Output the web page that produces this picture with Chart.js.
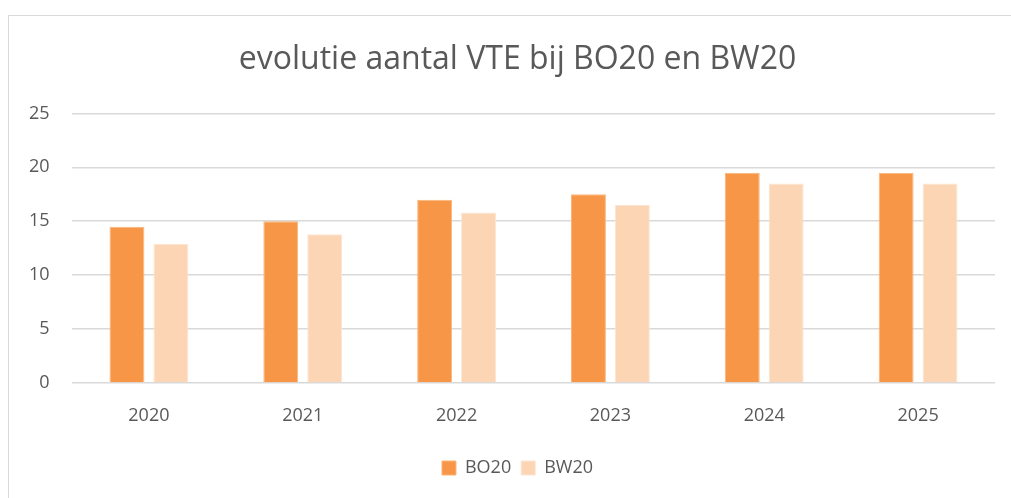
<!DOCTYPE html>
<html>
<head>
<meta charset="utf-8">
<script src="https://cdn.jsdelivr.net/npm/chart.js@4"></script>
<style>
  html, body { margin: 0; padding: 0; background: #fff; overflow: hidden; }
  #wrap { position: relative; width: 1011px; height: 498px; }
  #frame { position: absolute; left: 8px; top: 15px; width: 1100px; height: 600px; border: 1px solid #d9d9d9; box-sizing: border-box; }
  canvas { position: absolute; left: 0; top: 0; }
</style>
</head>
<body>
<div id="wrap">
  <div id="frame"></div>
  <canvas id="c" width="1011" height="498"></canvas>
</div>
<script>
const categories = ["2020", "2021", "2022", "2023", "2024", "2025"];
const bo20 = [14.5, 15, 17, 17.5, 19.5, 19.5];
const bw20 = [12.9, 13.8, 15.8, 16.5, 18.5, 18.5];
const seriesNames = ["BO20", "BW20"];
const titleText = "evolutie aantal VTE bij BO20 en BW20";

const fontFamily = "'Open Sans', 'Noto Sans', sans-serif";
const textColor = "#595959";

new Chart(document.getElementById("c"), {
  type: "bar",
  data: {
    labels: categories,
    datasets: [
      { label: seriesNames[0], data: bo20, backgroundColor: "#F79646", borderColor: "#FBB57A", borderWidth: 1 },
      { label: seriesNames[1], data: bw20, backgroundColor: "#FCD5B5", borderColor: "#FDE5D1", borderWidth: 1 }
    ]
  },
  options: {
    responsive: false,
    animation: false,
    devicePixelRatio: 1,
    datasets: { bar: { categoryPercentage: 0.571, barPercentage: 0.795 } },
    layout: { padding: { left: 40, right: 16, top: 41, bottom: 11 } },
    plugins: {
      title: {
        display: true,
        text: titleText,
        color: textColor,
        font: { family: fontFamily, size: 32, weight: "normal" },
        padding: { top: 0, bottom: 34 }
      },
      legend: {
        position: "bottom",
        labels: {
          color: textColor,
          font: { family: fontFamily, size: 18 },
          boxWidth: 14, boxHeight: 14,
          padding: 10
        }
      },
      tooltip: { enabled: false }
    },
    scales: {
      x: {
        grid: { display: false },
        border: { display: false },
        ticks: { color: textColor, font: { family: fontFamily, size: 18 }, padding: 14 },
        afterFit: (axis) => { axis.height = 66; }
      },
      y: {
        min: 0, max: 25,
        ticks: { stepSize: 5, color: textColor, font: { family: fontFamily, size: 18 },
                 mirror: true, crossAlign: "far", padding: -43 },
        grid: { color: "#d9d9d9", lineWidth: 1.5, drawTicks: false },
        border: { display: false },
        afterFit: (axis) => { axis.width = 32; }
      }
    }
  }
});
</script>
</body>
</html>
